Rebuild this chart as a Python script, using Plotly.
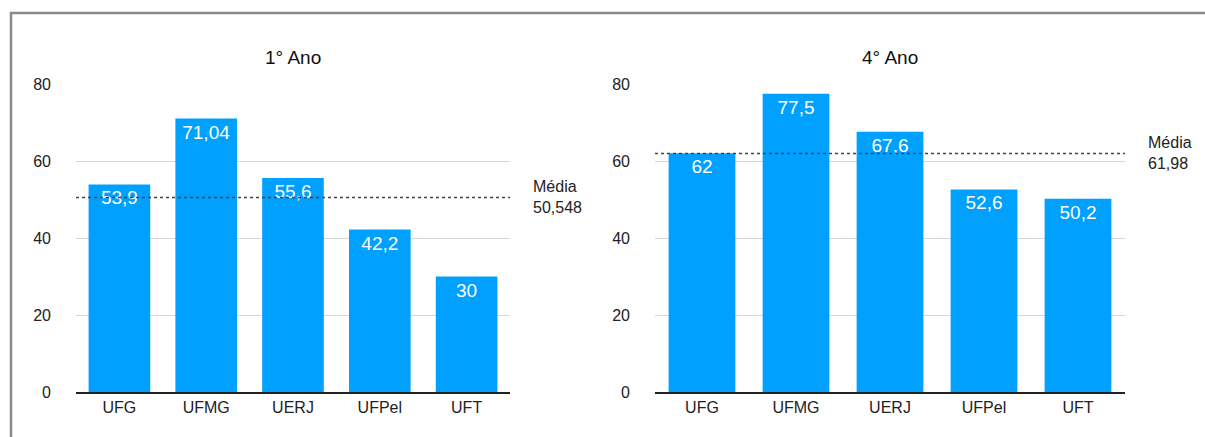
import plotly.graph_objects as go

categories = ["UFG", "UFMG", "UERJ", "UFPel", "UFT"]
ano1_values = [53.9, 71.04, 55.6, 42.2, 30]
ano4_values = [62, 77.5, 67.6, 52.6, 50.2]
means = [50.548, 61.98]
titles = ["1° Ano", "4° Ano"]
y_ticks = [0, 20, 40, 60, 80]

W, H = 1205, 437
def px(x):
    return x / W
def py(y):
    return 1 - y / H

BAR = "#00A0FF"
FONT = "Liberation Sans, Arial, Helvetica, sans-serif"

def fmt(v):
    return f"{v:g}".replace(".", ",")

fig = go.Figure()

panels = [
    dict(vals=ano1_values, x0=76, x1=510, xa="x", ya="y", mean=means[0], title=titles[0], mx=531),
    dict(vals=ano4_values, x0=655, x1=1125, xa="x2", ya="y2", mean=means[1], title=titles[1], mx=1146),
]
y_top, y_bot = 84, 392

for p in panels:
    fig.add_trace(go.Bar(
        x=categories, y=p["vals"], xaxis=p["xa"], yaxis=p["ya"],
        marker=dict(color=BAR, line=dict(width=0)),
        text=[fmt(v) for v in p["vals"]],
        textposition="inside", insidetextanchor="end",
        textfont=dict(color="white", size=19, family=FONT),
        textangle=0, showlegend=False, hoverinfo="x+y",
    ))

layout = dict(
    width=W, height=H, margin=dict(l=0, r=0, t=0, b=0),
    paper_bgcolor="white", plot_bgcolor="white",
    font=dict(family=FONT, color="#222", size=16),
    bargap=0.29, showlegend=False,
)
for i, p in enumerate(panels):
    sfx = "" if i == 0 else "2"
    layout["xaxis" + sfx] = dict(
        domain=[px(p["x0"]), px(p["x1"])], anchor="y" + sfx,
        showline=True, linecolor="#222", linewidth=2, showgrid=False,
        tickfont=dict(size=16, color="#222"), automargin=False, fixedrange=True,
    )
    layout["yaxis" + sfx] = dict(
        domain=[py(y_bot), py(y_top)], anchor="x" + sfx,
        range=[0, 80], tickvals=y_ticks, ticktext=[str(t) for t in y_ticks],
        showgrid=True, gridcolor="#d6d6d6", gridwidth=1, zeroline=False,
        showline=False, tickfont=dict(size=16, color="#222"),
        ticklabelstandoff=24, automargin=False, fixedrange=True,
    )
fig.update_layout(**layout)

shapes = []
annotations = []
for i, p in enumerate(panels):
    sfx = "" if i == 0 else "2"
    shapes.append(dict(
        type="line", xref=("x" + sfx) + " domain", yref="y" + sfx,
        x0=0, x1=1, y0=p["mean"], y1=p["mean"],
        line=dict(color="#444", width=1.5, dash="3px,3px"), layer="above",
    ))
    annotations.append(dict(
        xref=("x" + sfx) + " domain", yref="y" + sfx, x=1, y=p["mean"],
        xshift=p["mx"] - p["x1"], xanchor="left", yanchor="middle", align="left",
        text="Média<br>" + fmt(p["mean"]), showarrow=False,
        font=dict(size=16, color="#222", family=FONT),
    ))
    annotations.append(dict(
        xref="paper", yref="paper", x=px((p["x0"] + p["x1"]) / 2), y=py(57),
        xanchor="center", yanchor="middle", text=p["title"], showarrow=False,
        font=dict(size=19, color="#111", family=FONT),
    ))

# outer frame (top and left edges)
shapes.append(dict(
    type="path", xref="paper", yref="paper",
    path=f"M {px(11)} {py(440)} L {px(11)} {py(13)} L {px(1206)} {py(13)}",
    line=dict(color="#8a8a8a", width=2.5), layer="above",
))

fig.update_layout(shapes=shapes, annotations=annotations)
fig.write_html("out.html")
